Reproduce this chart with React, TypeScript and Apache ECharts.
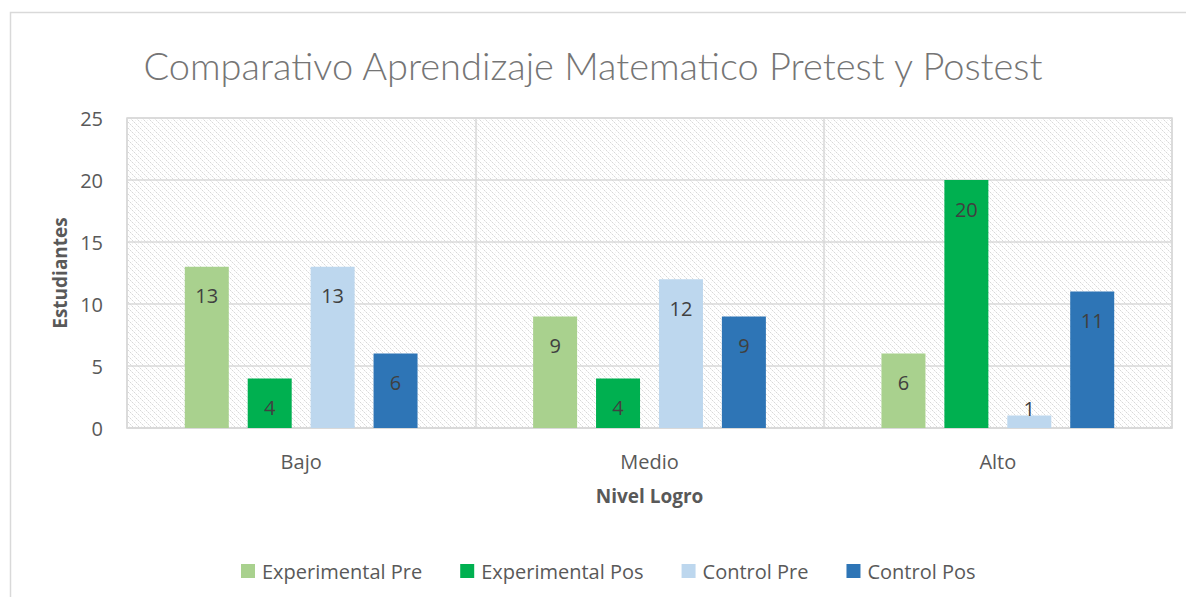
import React, { useEffect, useRef } from "react";
import * as echarts from "echarts";

const categories = ["Bajo", "Medio", "Alto"];
const seriesNames = ["Experimental Pre", "Experimental Pos", "Control Pre", "Control Pos"];
const experimentalPre = [13, 9, 6];
const experimentalPos = [4, 4, 20];
const controlPre = [13, 12, 1];
const controlPos = [6, 9, 11];
const seriesColors = ["#a9d18e", "#00b050", "#bdd7ee", "#2e75b6"];
const yMin = 0;
const yMax = 25;
const yStep = 5;

const titleText = "Comparativo Aprendizaje Matematico Pretest y Postest";
const yName = "Estudiantes";
const xName = "Nivel Logro";

function makePattern(): HTMLCanvasElement {
  const c = document.createElement("canvas");
  c.width = 6;
  c.height = 6;
  const ctx = c.getContext("2d")!;
  ctx.fillStyle = "#ffffff";
  ctx.fillRect(0, 0, 6, 6);
  for (let i = 0; i < 6; i++) {
    ctx.fillStyle = i % 2 === 0 ? "#d8d8d8" : "#ececec";
    ctx.fillRect(i, i, 1, 1);
  }
  ctx.fillStyle = "#f2f2f2";
  ctx.fillRect(3, 0, 1, 1);
  ctx.fillRect(0, 3, 1, 1);
  return c;
}

export default function App() {
  const ref = useRef<HTMLDivElement>(null);
  useEffect(() => {
    if (!ref.current) return;
    const chart = echarts.init(ref.current, undefined, { renderer: "svg" });
    const titleFont = "Lato, 'Open Sans', sans-serif";
    const font = "'Open Sans', Lato, sans-serif";
    const allData = [experimentalPre, experimentalPos, controlPre, controlPos];
    const series = allData.map((arr, si) => ({
      name: seriesNames[si],
      type: "bar",
      barWidth: 44,
      barGap: "43%",
      itemStyle: { color: seriesColors[si] },
      data: arr.map((v) =>
        v <= 2
          ? { value: v, label: { position: "top", distance: -3 } }
          : { value: v }
      ),
      label: {
        show: true,
        position: "insideTop",
        distance: 19,
        color: "#404040",
        fontSize: 20,
        fontFamily: font,
      },
    }));
    chart.setOption({
      animation: false,
      backgroundColor: "#ffffff",
      textStyle: { fontFamily: font },
      graphic: [
        {
          type: "rect",
          silent: true,
          shape: { x: 10.5, y: 12.5, width: 1200, height: 620 },
          style: { fill: "none", stroke: "#d9d9d9", lineWidth: 1.5 },
        },
      ],
      title: {
        text: titleText,
        left: "center",
        top: 46,
        padding: 0,
        textStyle: {
          fontFamily: titleFont,
          fontWeight: 300,
          fontSize: 38,
          color: "#757575",
        },
      },
      legend: {
        left: 241,
        top: 561,
        itemWidth: 14,
        itemHeight: 14,
        itemGap: 38,
        icon: "rect",
        padding: 0,
        textStyle: { color: "#595959", fontSize: 20, fontFamily: font, padding: [0, 0, 0, 2] },
        data: seriesNames,
      },
      grid: {
        left: 127,
        top: 118,
        right: 14,
        bottom: 169,
        show: true,
        backgroundColor: { image: makePattern(), repeat: "repeat" },
        borderColor: "#d9d9d9",
        borderWidth: 1.5,
      },
      xAxis: {
        type: "category",
        data: categories,
        axisTick: { show: false },
        axisLine: { lineStyle: { color: "#d9d9d9", width: 1.5 } },
        splitLine: { show: true, lineStyle: { color: "#d9d9d9", width: 1.5 } },
        axisLabel: { color: "#595959", fontSize: 20, margin: 23, fontFamily: font },
        name: xName,
        nameLocation: "middle",
        nameGap: 58,
        nameTextStyle: { color: "#595959", fontSize: 19, fontWeight: "bold", fontFamily: font },
      },
      yAxis: {
        type: "value",
        min: yMin,
        max: yMax,
        interval: yStep,
        axisLine: { show: false },
        axisTick: { show: false },
        splitLine: { lineStyle: { color: "#d9d9d9", width: 1.5 } },
        axisLabel: { color: "#595959", fontSize: 20, margin: 24, fontFamily: font },
        name: yName,
        nameLocation: "middle",
        nameGap: 56,
        nameTextStyle: { color: "#595959", fontSize: 19, fontWeight: "bold", fontFamily: font },
      },
      series,
    });
    return () => chart.dispose();
  }, []);
  return (
    <div
      ref={ref}
      style={{ position: "fixed", left: 0, top: 0, width: 1186, height: 597, background: "#fff" }}
    />
  );
}
